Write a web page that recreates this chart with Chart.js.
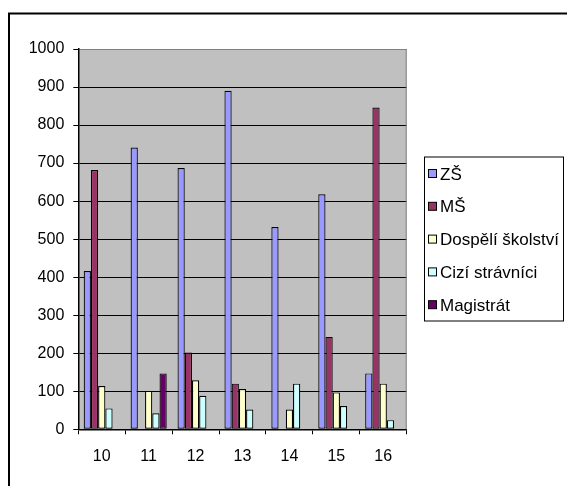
<!DOCTYPE html>
<html>
<head>
<meta charset="utf-8">
<script src="https://cdn.jsdelivr.net/npm/chart.js@4"></script>
<style>
  html, body { margin: 0; padding: 0; background: #ffffff; }
  #wrap { width: 567px; height: 486px; position: relative; }
</style>
</head>
<body>
<div id="wrap"><canvas id="c" width="567" height="486"></canvas></div>
<script>
const categories = ['10', '11', '12', '13', '14', '15', '16'];
const zs = [416, 741, 687, 890, 532, 618, 147];
const ms = [682, 0, 202, 120, 0, 243, 846];
const dospeli = [114, 101, 129, 106, 52, 97, 120];
const cizi = [55, 42, 88, 52, 120, 61, 24];
const magistrat = [0, 147, 0, 0, 0, 0, 0];
const seriesNames = ['ZŠ', 'MŠ', 'Dospělí školství', 'Cizí strávníci', 'Magistrát'];
const seriesColors = ['#9999FF', '#993366', '#FFFFCC', '#CCFFFF', '#660066'];
const yTicks = { min: 0, max: 1000, step: 100 };

const FONT = "'Liberation Sans', Arial, sans-serif";

const frameAndLegend = {
  id: 'frameAndLegend',
  beforeDraw(chart) {
    const { ctx, chartArea: a } = chart;
    ctx.save();
    ctx.fillStyle = '#C0C0C0';
    ctx.fillRect(a.left, a.top, a.right - a.left, a.bottom - a.top);
    ctx.restore();
  },
  afterDraw(chart) {
    const { ctx, chartArea: a } = chart;
    ctx.save();
    ctx.strokeStyle = '#808080';
    ctx.lineWidth = 1;
    ctx.beginPath();
    ctx.moveTo(a.right - 0.5, a.top);
    ctx.lineTo(a.right - 0.5, a.bottom);
    ctx.stroke();
    ctx.strokeStyle = '#000';
    ctx.lineWidth = 2;
    ctx.strokeRect(9, 13.5, 700, 600);
    const lx = 424, ly = 156.5, lw = 139, lh = 164;
    ctx.fillStyle = '#fff';
    ctx.fillRect(lx, ly, lw, lh);
    ctx.strokeStyle = '#000';
    ctx.lineWidth = 1;
    ctx.strokeRect(lx + 0.5, ly + 0.5, lw, lh);
    ctx.font = '17px ' + FONT;
    ctx.textBaseline = 'middle';
    ctx.textAlign = 'left';
    chart.data.datasets.forEach((ds, i) => {
      const cy = 174 + i * 32.8;
      ctx.fillStyle = ds.backgroundColor;
      ctx.fillRect(428.5, cy - 4.5, 8, 8);
      ctx.strokeStyle = '#000';
      ctx.strokeRect(428.5, cy - 4.5, 8, 8);
      ctx.fillStyle = '#000';
      ctx.fillText(ds.label, 440, cy + 1);
    });
    ctx.restore();
  }
};

const seriesData = [zs, ms, dospeli, cizi, magistrat];

new Chart(document.getElementById('c'), {
  type: 'bar',
  data: {
    labels: categories,
    datasets: seriesData.map((d, i) => ({
      label: seriesNames[i],
      data: d,
      backgroundColor: seriesColors[i],
      borderColor: '#000',
      borderWidth: (c) => (c.raw === 0 ? 0 : 1.2),
      borderSkipped: false,
      categoryPercentage: 0.77,
      barPercentage: 1.0
    }))
  },
  options: {
    responsive: false,
    animation: false,
    devicePixelRatio: 1,
    layout: { padding: { left: 0, top: 49, right: 160.3, bottom: 0 } },
    plugins: { legend: { display: false }, tooltip: { enabled: false } },
    scales: {
      x: {
        afterFit: (s) => { s.height = 56.7; },
        grid: { display: true, drawOnChartArea: false, offset: true, tickLength: 5, color: '#000', tickColor: '#000' },
        border: { display: true, color: '#000', width: 1.5 },
        ticks: { color: '#000', font: { family: FONT, size: 16 }, padding: 13, maxRotation: 0 }
      },
      y: {
        min: yTicks.min,
        max: yTicks.max,
        afterFit: (s) => { s.width = 78.3; },
        grid: {
          color: (c) => (c.tick && c.tick.value === yTicks.max ? '#808080' : '#000'),
          tickColor: '#000',
          tickLength: 5,
          lineWidth: 1
        },
        border: { display: true, color: '#000', width: 1.5 },
        ticks: { stepSize: yTicks.step, color: '#000', font: { family: FONT, size: 16 }, padding: 9, callback: (v) => String(v) }
      }
    }
  },
  plugins: [frameAndLegend]
});
</script>
</body>
</html>
